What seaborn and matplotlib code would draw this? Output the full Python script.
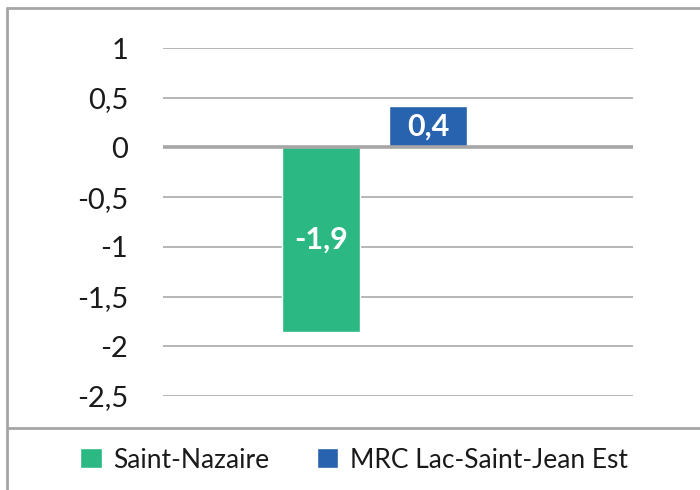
import pandas as pd
import matplotlib.pyplot as plt
import seaborn as sns
from matplotlib.lines import Line2D

# =======================
# Data
# =======================
series = ["Saint-Nazaire", "MRC Lac-Saint-Jean Est"]
values = [-1.86, 0.42]
colors = ["#2bb882", "#2763ae"]
yticks = [1, 0.5, 0, -0.5, -1, -1.5, -2, -2.5]

df = pd.DataFrame({"groupe": [""] * len(series), "serie": series, "valeur": values})

# =======================
# Figure
# =======================
sns.set_theme(style="white")
plt.rcParams["font.family"] = ["Lato", "DejaVu Sans"]

fig = plt.figure(figsize=(7, 4.9), dpi=100)
ax = fig.add_axes([163 / 700, 1 - 396 / 490, 470 / 700, 348 / 490])

sns.barplot(data=df, x="groupe", y="valeur", hue="serie", palette=colors,
            hue_order=series, width=0.8, gap=0.27, saturation=1, ax=ax, legend=True)

ax.set_ylim(-2.5, 1)
ax.set_xlim(-0.79, 0.966)
ax.set_yticks(yticks)
ax.set_yticklabels([f"{t:g}".replace(".", ",") for t in yticks],
                   fontsize=21, color="#1a1a1a")
ax.set_xticks([])
ax.set_xlabel("")
ax.set_ylabel("")
ax.tick_params(axis="y", length=0, pad=25)
for s in ax.spines.values():
    s.set_visible(False)

# gridlines
for t in yticks:
    if t == 0:
        ax.axhline(t, color="#a6a6a6", lw=2.6, zorder=3)
    else:
        ax.axhline(t, color="#b5b5b5", lw=1.4, zorder=0)

# bar labels
for cont in ax.containers:
    ax.bar_label(cont, labels=[f"{v:.1f}".replace(".", ",") for v in cont.datavalues],
                 label_type="center", color="white", fontsize=22, fontweight="bold")

# legend
handles, labels = ax.get_legend_handles_labels()
ax.legend_.remove()
fig.legend(handles, labels, loc="center", bbox_to_anchor=(0.506, 1 - 460 / 490),
           ncol=2, frameon=False, fontsize=19, handlelength=0.8, handleheight=0.8,
           handletextpad=0.45, columnspacing=1.8, labelcolor="#1a1a1a")

# frame around the chart
fig.add_artist(Line2D([7 / 700, 1], [1 - 8 / 490, 1 - 8 / 490], transform=fig.transFigure,
                      color="#a6a6a6", lw=2))
fig.add_artist(Line2D([7 / 700, 7 / 700], [0, 1 - 8 / 490], transform=fig.transFigure,
                      color="#a6a6a6", lw=2))
fig.add_artist(Line2D([7 / 700, 1], [1 - 428 / 490, 1 - 428 / 490], transform=fig.transFigure,
                      color="#a6a6a6", lw=2))

plt.savefig("out.png", dpi=100)
